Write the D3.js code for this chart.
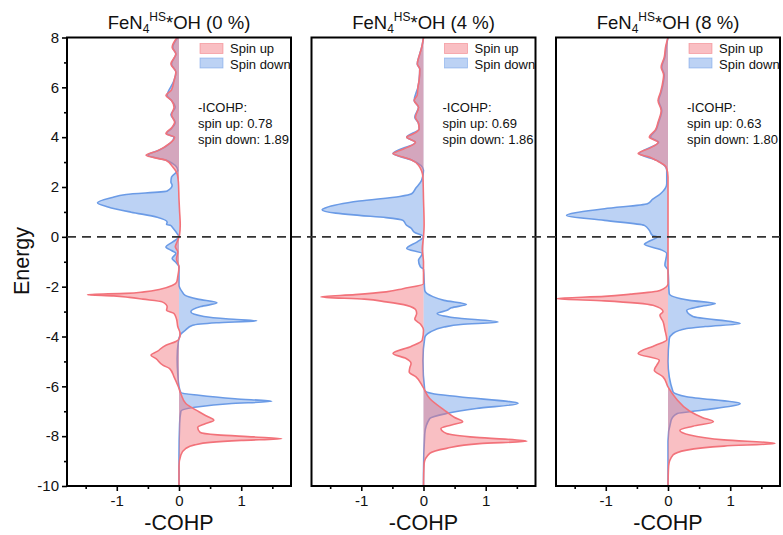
<!DOCTYPE html>
<html>
<head>
<meta charset="utf-8">
<script src="https://cdn.jsdelivr.net/npm/d3@7/dist/d3.min.js"></script>
<style>
  body { margin: 0; background: #fff; }
  text { font-family: "Liberation Sans", Arial, sans-serif; fill: #111; }
</style>
</head>
<body>
<script>
// Panel labels and the integrated COHP values printed in each panel.

var strains = ["0 %", "4 %", "8 %"],
    icohpUp = [0.78, 0.69, 0.63],
    icohpDown = [1.89, 1.86, 1.80];

// -COHP curves as [energy, -COHP] pairs,
// ordered from the top of the energy axis to the bottom.

var spinUp0 = [
  [8.0,-0.03],[7.61,-0.11],[7.34,-0.05],[6.94,-0.13],[6.61,-0.05],[6.27,-0.08],[5.9,-0.12],
  [5.67,-0.21],[5.47,-0.12],[5.2,-0.08],[4.9,-0.12],[4.6,-0.07],[4.4,-0.11],[4.14,-0.21],
  [4.0,-0.07],[3.75,-0.15],[3.45,-0.35],[3.27,-0.53],[3.07,-0.21],[2.8,-0.1],[2.53,-0.03],
  [2.2,-0.01],[1.5,0.0],[1.0,0.01],[0.5,0.02],[0.1,0.01],[-0.2,-0.03],[-0.4,-0.06],[-0.6,-0.02],
  [-0.9,-0.04],[-1.2,0.0],[-1.6,-0.02],[-1.83,-0.04],[-1.95,-0.11],[-2.1,-0.3],[-2.21,-0.56],
  [-2.27,-0.85],[-2.32,-1.47],[-2.37,-1.05],[-2.43,-0.8],[-2.5,-0.58],[-2.61,-0.27],[-2.81,-0.19],
  [-2.95,-0.2],[-3.08,-0.08],[-3.3,-0.04],[-3.6,-0.02],[-3.9,0.02],[-4.1,0.0],[-4.2,-0.05],
  [-4.35,-0.21],[-4.6,-0.35],[-4.75,-0.45],[-4.89,-0.37],[-5.15,-0.26],[-5.29,-0.15],[-5.62,-0.08],
  [-6.02,-0.01],[-6.3,0.03],[-6.69,0.11],[-7.02,0.32],[-7.2,0.45],[-7.36,0.56],[-7.5,0.42],
  [-7.65,0.3],[-7.85,0.34],[-7.95,0.62],[-8.03,1.2],[-8.1,1.65],[-8.17,1.0],[-8.25,0.5],
  [-8.35,0.25],[-8.49,0.11],[-8.76,0.03],[-9.2,0.0],[-10,0.0]
];

var spinDown0 = [
  [8.0,-0.02],[7.6,-0.1],[7.34,-0.05],[6.94,-0.12],[6.61,-0.05],[6.27,-0.08],[5.67,-0.19],
  [5.47,-0.12],[5.2,-0.06],[4.9,-0.13],[4.6,-0.06],[4.35,-0.12],[4.14,-0.2],[4.0,-0.08],
  [3.5,-0.3],[3.27,-0.5],[3.07,-0.2],[2.67,-0.02],[2.4,-0.12],[2.2,-0.13],[2.07,-0.11],
  [1.84,-0.19],[1.7,-0.85],[1.57,-1.09],[1.37,-1.31],[1.2,-1.14],[0.99,-0.77],[0.79,-0.35],
  [0.59,-0.19],[0.5,-0.2],[0.45,-0.13],[0.39,-0.11],[0.13,-0.03],[0.0,0.0],[-0.2,-0.1],
  [-0.41,-0.21],[-0.55,-0.12],[-0.66,-0.05],[-0.87,-0.11],[-1.0,-0.06],[-1.2,0.0],[-1.94,0.0],
  [-2.2,0.05],[-2.35,0.1],[-2.5,0.3],[-2.65,0.61],[-2.8,0.35],[-3.01,0.19],[-3.2,0.4],
  [-3.3,0.8],[-3.37,1.25],[-3.45,0.6],[-3.55,0.22],[-3.75,0.1],[-3.9,0.03],[-4.2,-0.01],
  [-4.9,-0.03],[-5.5,-0.02],[-6.0,0.0],[-6.25,0.03],[-6.36,0.32],[-6.5,0.9],[-6.6,1.49],
  [-6.7,0.8],[-6.82,0.32],[-7.0,0.03],[-7.5,0.01],[-8.8,0.0],[-10,0.0]
];

var spinUp4 = [
  [8.0,0.0],[7.6,-0.03],[7.34,-0.06],[6.94,-0.1],[6.74,-0.06],[6.3,-0.07],[6.0,-0.09],
  [5.7,-0.1],[5.47,-0.15],[5.2,-0.08],[4.8,-0.13],[4.55,-0.08],[4.33,-0.07],[4.15,-0.15],
  [4.0,-0.27],[3.8,-0.13],[3.6,-0.25],[3.45,-0.4],[3.34,-0.49],[3.2,-0.33],[3.09,-0.2],
  [2.87,-0.08],[2.4,-0.01],[1.5,0.0],[0.5,0.01],[0.0,0.0],[-0.5,-0.02],[-1.0,0.0],[-1.5,0.0],
  [-1.88,0.0],[-2.08,-0.33],[-2.21,-0.6],[-2.32,-1.1],[-2.41,-1.65],[-2.5,-0.95],[-2.61,-0.6],
  [-2.75,-0.27],[-2.95,-0.12],[-3.08,-0.11],[-3.3,-0.14],[-3.5,-0.05],[-3.75,0.0],[-4.15,-0.02],
  [-4.4,-0.2],[-4.68,-0.49],[-4.88,-0.28],[-5.08,-0.2],[-5.25,-0.22],[-5.42,-0.23],[-5.62,-0.12],
  [-6.02,-0.01],[-6.49,0.1],[-7.02,0.37],[-7.25,0.5],[-7.42,0.63],[-7.55,0.45],[-7.69,0.28],
  [-7.89,0.37],[-8.05,0.85],[-8.2,1.66],[-8.3,0.9],[-8.49,0.37],[-8.69,0.1],[-9.1,0.01],[-10,0.0]
];

var spinDown4 = [
  [8.0,0.0],[7.6,-0.03],[7.34,-0.06],[6.94,-0.1],[6.74,-0.06],[6.3,-0.07],[6.0,-0.09],
  [5.47,-0.15],[5.2,-0.08],[4.8,-0.14],[4.55,-0.08],[4.33,-0.07],[4.0,-0.27],[3.8,-0.13],
  [3.34,-0.49],[3.09,-0.2],[2.67,0.0],[2.27,-0.03],[1.93,-0.13],[1.73,-0.19],[1.62,-0.38],
  [1.44,-1.03],[1.17,-1.57],[1.09,-1.63],[0.95,-1.41],[0.86,-1.03],[0.77,-0.6],[0.66,-0.33],
  [0.46,-0.27],[0.35,-0.2],[0.19,-0.15],[0.0,0.0],[-0.2,-0.1],[-0.47,-0.27],[-0.67,-0.02],
  [-0.94,-0.08],[-1.21,-0.05],[-1.3,0.0],[-2.15,0.02],[-2.4,0.15],[-2.55,0.33],[-2.71,0.69],
  [-2.85,0.45],[-2.95,0.38],[-3.08,0.22],[-3.25,0.5],[-3.42,1.2],[-3.52,0.6],[-3.62,0.33],
  [-3.82,0.11],[-4.05,0.02],[-4.96,-0.01],[-6.16,0.02],[-6.29,0.14],[-6.42,0.57],[-6.69,1.52],
  [-6.89,0.85],[-7.09,0.37],[-7.29,0.1],[-7.9,0.02],[-9.5,0.0],[-10,0.0]
];

var spinUp8 = [
  [8.0,0.0],[7.6,-0.04],[7.21,-0.06],[6.81,-0.11],[6.5,-0.07],[6.27,-0.08],[5.8,-0.12],
  [5.47,-0.16],[5.07,-0.11],[4.6,-0.16],[4.3,-0.2],[4.0,-0.3],[3.8,-0.16],[3.55,-0.3],
  [3.34,-0.48],[3.2,-0.3],[3.07,-0.19],[2.8,-0.03],[2.4,0.0],[0.0,0.0],[-1.88,0.0],[-2.15,-0.13],
  [-2.3,-0.6],[-2.39,-1.02],[-2.48,-1.8],[-2.57,-1.02],[-2.75,-0.24],[-3.0,-0.08],[-3.15,-0.13],
  [-3.4,-0.08],[-3.73,-0.05],[-4.13,-0.02],[-4.35,-0.2],[-4.68,-0.48],[-4.95,-0.14],[-5.15,-0.18],
  [-5.35,-0.22],[-5.62,-0.08],[-6.02,0.0],[-6.49,0.13],[-7.0,0.35],[-7.25,0.55],[-7.42,0.73],
  [-7.6,0.4],[-7.76,0.19],[-7.95,0.35],[-8.15,0.9],[-8.29,1.72],[-8.4,0.9],[-8.56,0.3],
  [-8.76,0.08],[-9.2,0.01],[-10,0.0]
];

var spinDown8 = [
  [8.0,0.0],[7.6,-0.03],[7.21,-0.05],[6.81,-0.1],[6.5,-0.06],[6.27,-0.07],[5.8,-0.11],
  [5.47,-0.15],[5.07,-0.1],[4.6,-0.15],[4.3,-0.19],[4.0,-0.28],[3.8,-0.15],[3.34,-0.46],
  [3.07,-0.18],[2.67,-0.02],[2.13,-0.02],[1.73,-0.12],[1.5,-0.25],[1.33,-0.33],[1.13,-1.02],
  [0.86,-1.63],[0.66,-1.02],[0.46,-0.38],[0.26,-0.3],[0.06,-0.25],[0.0,-0.17],[-0.21,-0.33],
  [-0.3,-0.38],[-0.51,-0.12],[-0.67,-0.02],[-1.14,-0.05],[-1.34,0.0],[-2.28,0.02],[-2.55,0.35],
  [-2.68,0.76],[-2.8,0.5],[-2.95,0.3],[-3.2,0.4],[-3.48,1.16],[-3.6,0.6],[-3.68,0.3],
  [-3.88,0.08],[-4.1,0.02],[-5.0,0.0],[-6.22,0.08],[-6.42,0.3],[-6.69,1.16],[-6.96,0.54],
  [-7.09,0.15],[-7.36,0.05],[-8.2,0.0],[-10,0.0]
];

var spinUp = [spinUp0, spinUp4, spinUp8],
    spinDown = [spinDown0, spinDown4, spinDown8];

var energyTicks = d3.range(-10, 9, 2),
    energyMinor = d3.range(-9, 8, 2),
    cohpTicks = [-1, 0, 1],
    cohpMinor = [-1.5, -0.5, 0.5, 1.5];

// Layout of the three side-by-side panels.
// (plotTop, not "top": a global "top" is window.top and can't be set)

var width = 783,
    height = 535,
    plotTop = 37.5,
    plotBottom = 486,
    panelW = 224,
    lefts = [67, 311.5, 556];

var upColor = '#f2727a',
    downColor = '#6b9be6';

var svg = d3.select('body')
  .append('svg')
  .attr('width', width)
  .attr('height', height);

var y = d3.scaleLinear()
  .domain([-10, 8])
  .range([plotBottom, plotTop]);

strains.forEach(function(strain, i) {
  var left = lefts[i],
      right = left + panelW;

  var x = d3.scaleLinear()
    .domain([-1.8, 1.8])
    .range([left, right]);

  var area = d3.area()
    .y(function(d) { return y(d[0]); })
    .x0(x(0))
    .x1(function(d) { return x(d[1]); })
    .curve(d3.curveMonotoneY);

  var line = d3.line()
    .x(function(d) { return x(d[1]); })
    .y(function(d) { return y(d[0]); })
    .curve(d3.curveMonotoneY);

  svg.append('clipPath')
    .attr('id', 'clip' + i)
    .append('rect')
    .attr('x', left)
    .attr('y', plotTop)
    .attr('width', panelW)
    .attr('height', plotBottom - plotTop);

  var g = svg.append('g')
    .attr('clip-path', 'url(#clip' + i + ')');

  // spin down first so the spin up curve sits on top

  [[spinDown[i], downColor], [spinUp[i], upColor]].forEach(function(s) {
    g.append('path')
      .attr('d', area(s[0]))
      .attr('fill', s[1])
      .attr('fill-opacity', 0.45);
    g.append('path')
      .attr('d', line(s[0]))
      .attr('fill', 'none')
      .attr('stroke', s[1])
      .attr('stroke-width', 1.6);
  });

  // frame

  svg.append('rect')
    .attr('x', left)
    .attr('y', plotTop)
    .attr('width', panelW)
    .attr('height', plotBottom - plotTop)
    .attr('fill', 'none')
    .attr('stroke', '#000')
    .attr('stroke-width', 2);

  // bottom axis, major and minor ticks

  var xAxis = svg.append('g')
    .attr('transform', 'translate(0,' + plotBottom + ')')
    .call(d3.axisBottom(x).tickValues(cohpTicks).tickSize(5).tickPadding(4)
      .tickFormat(function(d) { return String(d); }));
  xAxis.select('.domain').remove();
  xAxis.selectAll('text')
    .style('font-family', '"Liberation Sans", Arial, sans-serif')
    .style('font-size', '15px')
    .attr('fill', '#111');
  svg.append('g')
    .attr('transform', 'translate(0,' + plotBottom + ')')
    .call(d3.axisBottom(x).tickValues(cohpMinor).tickSize(3).tickFormat(''))
    .call(function(a) { a.select('.domain').remove(); });

  svg.append('text')
    .attr('x', (left + right) / 2)
    .attr('y', 530)
    .attr('text-anchor', 'middle')
    .style('font-size', '21.5px')
    .text('-COHP');

  // title with subscript 4 and superscript HS

  var title = svg.append('text')
    .attr('x', (left + right) / 2)
    .attr('y', 29)
    .attr('text-anchor', 'middle')
    .style('font-size', '18.5px');
  title.append('tspan').text('FeN');
  title.append('tspan').attr('dy', 4).style('font-size', '12px').text('4');
  title.append('tspan').attr('dy', -12).style('font-size', '12px').text('HS');
  title.append('tspan').attr('dy', 8).text('*OH (' + strain + ')');

  // legend

  var legend = [['Spin up', upColor], ['Spin down', downColor]];
  legend.forEach(function(l, j) {
    svg.append('rect')
      .attr('x', right - 91)
      .attr('y', 43.5 + j * 14.5)
      .attr('width', 23)
      .attr('height', 10)
      .attr('fill', l[1])
      .attr('fill-opacity', 0.45)
      .attr('stroke', l[1])
      .attr('stroke-opacity', 0.6)
      .attr('stroke-width', 0.8);
    svg.append('text')
      .attr('x', right - 61)
      .attr('y', 53 + j * 15.5)
      .style('font-size', '13px')
      .text(l[0]);
  });

  var fmt = d3.format('.2f');
  ['-ICOHP:', 'spin up: ' + fmt(icohpUp[i]), 'spin down: ' + fmt(icohpDown[i])]
    .forEach(function(t, j) {
      svg.append('text')
        .attr('x', right - 93)
        .attr('y', 111.5 + j * 16.2)
        .style('font-size', '13px')
        .text(t);
    });
});

// Dashed Fermi level runs across all panels, gaps included.

svg.append('line')
  .attr('x1', lefts[0])
  .attr('x2', lefts[2] + panelW)
  .attr('y1', y(0))
  .attr('y2', y(0))
  .attr('stroke', '#333')
  .attr('stroke-width', 1.6)
  .attr('stroke-dasharray', '9,6');

// Energy axis on the first panel only.

var yAxis = svg.append('g')
  .attr('transform', 'translate(' + lefts[0] + ',0)')
  .call(d3.axisLeft(y).tickValues(energyTicks).tickSize(5).tickPadding(3)
    .tickFormat(function(d) { return String(d); }));
yAxis.select('.domain').remove();
yAxis.selectAll('text')
  .style('font-family', '"Liberation Sans", Arial, sans-serif')
  .style('font-size', '15px')
  .attr('fill', '#111');
svg.append('g')
  .attr('transform', 'translate(' + lefts[0] + ',0)')
  .call(d3.axisLeft(y).tickValues(energyMinor).tickSize(3).tickFormat(''))
  .call(function(a) { a.select('.domain').remove(); });
svg.selectAll('.tick line').attr('stroke', '#000').attr('stroke-width', 1.6);

svg.append('text')
  .attr('transform', 'translate(28.5,261) rotate(-90)')
  .attr('text-anchor', 'middle')
  .style('font-size', '21.5px')
  .text('Energy');
</script>
</body>
</html>
